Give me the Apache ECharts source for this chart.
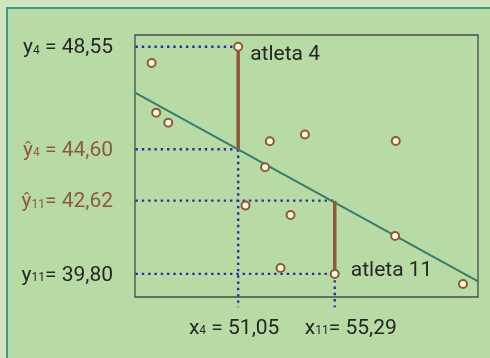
<!DOCTYPE html>
<html>
<head>
<meta charset="utf-8">
<script src="https://cdn.jsdelivr.net/npm/echarts@6/dist/echarts.min.js"></script>
<style>
  html, body { margin: 0; padding: 0; }
  body { width: 490px; height: 358px; background: #cfe6c1; overflow: hidden; position: relative; }
  #frame { position: absolute; left: 6px; top: 7px; width: 700px; height: 600px; background: #b8dba6;
           border-top: 2px solid #3f9986; border-left: 2px solid #3f9986; }
  #chart { position: absolute; left: 0; top: 0; width: 490px; height: 358px; }
</style>
</head>
<body>
<div id="frame"></div>
<div id="chart"></div>
<script>
// pontos dos atletas
const athleteX = [51.05, 47.25, 47.45, 47.98, 52.44, 53.98, 57.97, 52.23, 51.37, 53.35, 57.94, 52.91, 55.29, 60.92];
const athleteY = [48.55, 47.92, 46.01, 45.62, 44.91, 45.17, 44.92, 43.91, 42.43, 42.07, 41.26, 40.03, 39.80, 39.41];
const athleteNames = ['atleta 4', '', '', '', '', '', '', '', '', '', '', '', 'atleta 11', ''];

// reta de regressão (extremos)
const fitX = [46.52, 61.58];
const fitY = [46.78, 39.51];

// resíduos: índice do atleta e valor ajustado
const residualIdx = [0, 12];
const residualFit = [44.60, 42.62];

// rótulos dos eixos
const xTicks = [51.05, 55.29];
const xTickVar = ['x', 'x'];
const xTickSub = ['4', '11'];
const xTickText = [' = 51,05', '= 55,29'];
const yTicks = [48.55, 44.60, 42.62, 39.80];
const yTickVar = ['y', 'ŷ', 'ŷ', 'y'];
const yTickSub = ['4', '4', '11', '11'];
const yTickText = [' = 48,55', ' = 44,60', '= 42,62', '= 39,80'];
const yTickFitted = [false, true, true, false];

// onde as linhas pontilhadas começam (fora da caixa)
const guideX0 = 45.99;
const guideY0 = 38.52;

const FONT = 'Roboto, "Liberation Sans", sans-serif';
const DARK = '#262626';
const BROWN = '#8c5a3a';

const chart = echarts.init(document.getElementById('chart'));

const dotted = { color: '#2a2f9c', width: 2.4, type: [2.4, 3.9], cap: 'butt' };

const guideSeries = [];
const yGuideAt = [0, 0, 1, 1]; // qual resíduo cada rótulo y usa
yTicks.forEach((v, i) => {
  const ax = athleteX[residualIdx[yGuideAt[i]]];
  guideSeries.push({
    type: 'line', data: [[guideX0, v], [ax, v]], clip: false, showSymbol: false,
    lineStyle: dotted, silent: true, z: 1
  });
});
residualIdx.forEach((idx, k) => {
  const top = Math.min(athleteY[idx], residualFit[k]);
  guideSeries.push({
    type: 'line', data: [[athleteX[idx], top], [athleteX[idx], guideY0]], clip: false, showSymbol: false,
    lineStyle: dotted, silent: true, z: 1
  });
});

const residualSeries = residualIdx.map((idx, k) => ({
  type: 'line',
  data: [[athleteX[idx], athleteY[idx]], [athleteX[idx], residualFit[k]]],
  showSymbol: false, silent: true, z: 3,
  lineStyle: { color: BROWN, width: 3.5 }
}));

const big = { fontSize: 21, fontFamily: FONT, verticalAlign: 'bottom', lineHeight: 24 };
const small = { fontSize: 12, fontFamily: FONT, verticalAlign: 'bottom', lineHeight: 24, padding: [0, 0, 2, 0] };
const richSet = {
  n: { ...big, color: DARK },
  np: { ...big, color: DARK, padding: [0, 0, 0, 32] },
  nq: { ...big, color: DARK, padding: [0, 8, 0, 0] },
  ns: { ...small, color: DARK },
  h: { ...big, color: BROWN },
  hs: { ...small, color: BROWN }
};

function tickIndex(list, v) {
  return list.findIndex(t => Math.abs(t - v) < 1e-6);
}

// um eixo x por rótulo, para que nenhum seja escondido por sobreposição
const xAxes = xTicks.map((t, i) => ({
  type: 'value', min: 46.52, max: 61.58, position: 'bottom',
  axisLine: { show: false }, axisTick: { show: false }, splitLine: { show: false },
  axisLabel: {
    customValues: [t], margin: 18, showMinLabel: true, showMaxLabel: true,
    // x4 um pouco à esquerda, x11 deslocado para a direita
    formatter: () => i === 0
      ? `{n|${xTickVar[i]}}{ns|${xTickSub[i]}}{nq|${xTickText[i]}}`
      : `{np|${xTickVar[i]}}{ns|${xTickSub[i]}}{n|${xTickText[i]}}`,
    rich: richSet
  }
}));

chart.setOption({
  animation: false,
  grid: { left: 135, top: 35, right: 12, bottom: 61, show: true, borderColor: '#4b4b4b', borderWidth: 1.3 },
  xAxis: xAxes,
  yAxis: {
    type: 'value', min: 38.91, max: 49.0,
    axisLine: { show: false }, axisTick: { show: false }, splitLine: { show: false },
    axisLabel: {
      customValues: yTicks, margin: 22, hideOverlap: false,
      showMinLabel: true, showMaxLabel: true,
      formatter: v => {
        const i = tickIndex(yTicks, v);
        if (i < 0) return '';
        const k = yTickFitted[i] ? 'h' : 'n';
        return `{${k}|${yTickVar[i]}}{${k}s|${yTickSub[i]}}{${k}|${yTickText[i]}}`;
      },
      rich: richSet
    }
  },
  series: [
    ...guideSeries,
    {
      type: 'line', data: fitX.map((x, i) => [x, fitY[i]]), showSymbol: false, silent: true, z: 2,
      lineStyle: { color: '#3a7c6c', width: 2 }
    },
    ...residualSeries,
    {
      type: 'scatter', z: 4, symbolSize: 8,
      data: athleteX.map((x, i) => ({ value: [x, athleteY[i]], name: athleteNames[i] })),
      itemStyle: { color: '#fbf6dc', borderColor: BROWN, borderWidth: 2, opacity: 1 },
      label: {
        show: true, position: 'right', distance: 7,
        formatter: p => p.name, color: DARK, fontSize: 21, fontFamily: FONT
      },
      labelLayout: p => p.dataIndex === 0 ? { dy: 8 } : { dy: -3, dx: 4 }
    }
  ]
});
</script>
</body>
</html>
